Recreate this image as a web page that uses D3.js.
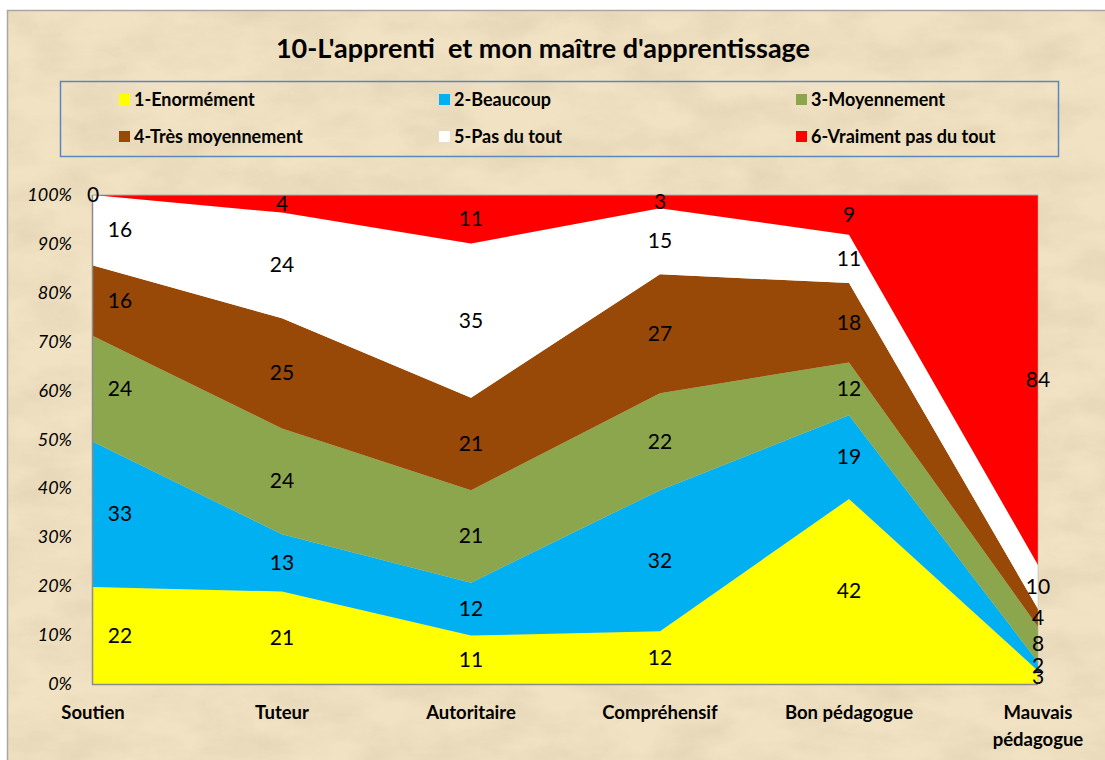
<!DOCTYPE html>
<html><head><meta charset="utf-8">
<script src="https://cdn.jsdelivr.net/npm/d3@7"></script>
<style>
body{margin:0;background:#fff;}
svg{display:block;}
</style></head>
<body>
<svg id="chart" width="1105" height="760"></svg>
<script>
const categories = ["Soutien","Tuteur","Autoritaire","Compréhensif","Bon pédagogue","Mauvais pédagogue"];
const seriesNames = ["1-Enormément","2-Beaucoup","3-Moyennement","4-Très moyennement","5-Pas du tout","6-Vraiment pas du tout"];
const seriesColors = ["#ffff00","#00b0f0","#8ba64d","#984807","#ffffff","#ff0000"];
const enormement = [22,21,11,12,42,3];
const beaucoup = [33,13,12,32,19,2];
const moyennement = [24,24,21,22,12,8];
const tresMoyennement = [16,25,21,27,18,4];
const pasDuTout = [16,24,35,15,11,10];
const vraimentPas = [0,4,11,3,9,84];
const yTicks = [0,0.1,0.2,0.3,0.4,0.5,0.6,0.7,0.8,0.9,1];
const title = "10-L'apprenti  et mon maître d'apprentissage";

const seriesValues = [enormement,beaucoup,moyennement,tresMoyennement,pasDuTout,vraimentPas];
const table = categories.map((c,i)=>{
  const row = {cat:c};
  seriesNames.forEach((s,j)=>row[s]=seriesValues[j][i]);
  return row;
});

const svg = d3.select("#chart");
const defs = svg.append("defs");
const f = defs.append("filter").attr("id","paper").attr("x",0).attr("y",0).attr("width","100%").attr("height","100%");
f.append("feTurbulence").attr("type","fractalNoise").attr("baseFrequency","0.015 0.03").attr("numOctaves",5).attr("seed",7).attr("result","n");
f.append("feColorMatrix").attr("in","n").attr("type","matrix")
  .attr("values","0 0 0 0 0.62  0 0 0 0 0.52  0 0 0 0 0.36  0 0 0 -1.3 0.85").attr("result","c");
f.append("feComposite").attr("in","c").attr("in2","SourceGraphic").attr("operator","in");

// chart background
svg.append("rect").attr("x",7.5).attr("y",10.5).attr("width",1110).attr("height",760)
  .attr("fill","#f0e2c2").attr("stroke","#a6a6a6").attr("stroke-width",1.5);
svg.append("rect").attr("x",8).attr("y",11).attr("width",1097).attr("height",749)
  .attr("fill","#f0e2c2").attr("filter","url(#paper)").attr("opacity",0.5);

const font = "Lato, 'Open Sans', sans-serif";

svg.append("text").attr("x",543).attr("y",58).attr("text-anchor","middle")
  .style("white-space","pre").attr("xml:space","preserve")
  .attr("font-family",font).attr("font-weight","bold").attr("font-size",27).attr("fill","#000")
  .text(title);

// legend
svg.append("rect").attr("x",60.5).attr("y",81.5).attr("width",998).attr("height",75)
  .attr("fill","none").attr("stroke","#5b87c0").attr("stroke-width",1.5);
const legX = [119,439,796], legY=[100,137];
seriesNames.forEach((s,i)=>{
  const x = legX[i%3], y = legY[Math.floor(i/3)];
  svg.append("rect").attr("x",x).attr("y",y-6).attr("width",11).attr("height",11).attr("fill",seriesColors[i]);
  svg.append("text").attr("x",x+15).attr("y",y+6).attr("font-family",font).attr("font-weight","bold")
    .attr("font-size",18).attr("fill","#000").text(s);
});

const x = d3.scalePoint().domain(categories).range([93,1038]);
const y = d3.scaleLinear().domain([0,1]).range([684,195]);

const stack = d3.stack().keys(seriesNames).offset(d3.stackOffsetExpand);
const layers = stack(table);
const area = d3.area().x(d=>x(d.data.cat)).y0(d=>y(d[0])).y1(d=>y(d[1]));

svg.append("g").selectAll("path").data(layers).join("path")
  .attr("d",area).attr("fill",(d,i)=>seriesColors[i]);

// plot border / axes
svg.append("line").attr("x1",93).attr("x2",1038).attr("y1",195).attr("y2",195).attr("stroke","#b0a9a0").attr("stroke-width",1);
svg.append("line").attr("x1",1038).attr("x2",1038).attr("y1",195).attr("y2",684).attr("stroke","#b0a9a0").attr("stroke-width",0.5);
svg.append("line").attr("x1",92.5).attr("x2",92.5).attr("y1",195).attr("y2",685).attr("stroke","#8c8c8c").attr("stroke-width",1.5);
svg.append("line").attr("x1",92).attr("x2",1038).attr("y1",684.5).attr("y2",684.5).attr("stroke","#8c8c8c").attr("stroke-width",1.5);

// y ticks
svg.append("g").selectAll("text").data(yTicks).join("text")
  .attr("x",72).attr("y",d=>y(d)+6).attr("text-anchor","end")
  .attr("font-family",font).attr("font-style","italic").attr("font-size",18).attr("fill","#000")
  .text(d=>d3.format(".0%")(d));

// x labels
categories.forEach(c=>{
  const words = c === "Mauvais pédagogue" ? ["Mauvais","pédagogue"] : [c];
  words.forEach((w,k)=>{
    svg.append("text").attr("x",x(c)).attr("y",719+k*27).attr("text-anchor","middle")
      .attr("font-family",font).attr("font-weight","bold").attr("font-size",18.5).attr("fill","#000").text(w);
  });
});

// data labels
const lbl = svg.append("g");
layers.forEach((layer,i)=>{
  layer.forEach((d,j)=>{
    const v = d.data[seriesNames[i]];
    let cx = x(d.data.cat);
    if (j===0 && v>0) cx += 27;
    let cy = y((d[0]+d[1])/2);
    if (cy > 680) cy = 680;
    lbl.append("text").attr("x",cx).attr("y",cy+7).attr("text-anchor","middle")
      .attr("font-family",font).attr("font-size",21).attr("fill","#000").text(v);
  });
});
</script>
</body></html>
